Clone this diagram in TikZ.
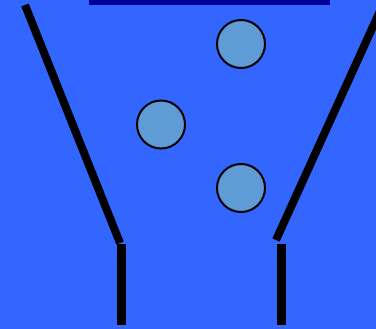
\documentclass[tikz,border=0pt]{standalone}
\definecolor{bgblue}{RGB}{51,102,255}
\definecolor{barblue}{RGB}{0,0,153}
\definecolor{ballfill}{RGB}{95,155,213}
\begin{document}
\begin{tikzpicture}[x=1pt,y=-1pt,
  ball/.style={circle,draw=black,line width=2pt,fill=ballfill,minimum size=48pt,inner sep=0pt},
  wall/.style={line width=8pt,black},
  spout/.style={line width=9pt,black}]
\fill[bgblue] (0,0) rectangle (376,329);
\useasboundingbox (0,0) rectangle (376,329);
\clip (0,0) rectangle (376,329);
\fill[barblue] (89,0) rectangle (330,4.7);
\node[ball] (b1) at (241,44) {};
\node[ball] (b2) at (161,124.5) {};
\node[ball] (b3) at (241,188) {};
\draw[wall] (25,5) -- (120,243);
\draw[wall] (385,0) -- (276,240);
\draw[spout] (121.5,244) -- (121.5,325);
\draw[spout] (281.5,244) -- (281.5,325);
\end{tikzpicture}
\end{document}
